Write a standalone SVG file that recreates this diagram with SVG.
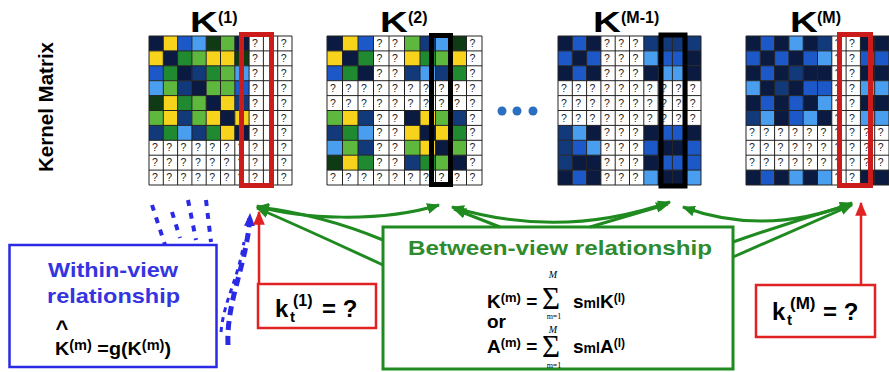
<svg xmlns="http://www.w3.org/2000/svg" xmlns:xlink="http://www.w3.org/1999/xlink" width="889" height="372" viewBox="0 0 889 372">
<style>
text{font-family:"Liberation Sans",Arial,sans-serif}
.fb{font-weight:bold}
.N{fill:#0a1a40}.D{fill:#12397a}.B{fill:#1c58c8}.L{fill:#4a9ef0}.G{fill:#0e3b14}.g{fill:#1f8a30}.l{fill:#5fb83e}.Y{fill:#f7d31c}
.grid{fill:none;stroke:#222;stroke-width:1}
.q{font-size:10.5px;fill:#222}
.gr{fill:none;stroke:#1f8a1f;stroke-width:3}
.rd{fill:none;stroke:#e02222;stroke-width:2.5}
.bd{fill:none;stroke:#2a2ae6;stroke-linecap:butt}
.sm{font-family:"Liberation Serif","DejaVu Serif",serif}
</style>
<defs>
<path id="g143" d="M0 0V149M14.3 0V149M28.6 0V149M42.9 0V149M57.2 0V149M71.5 0V149M85.8 0V149M100.1 0V149M114.4 0V149M128.7 0V149M143 0V149M0 0H143M0 14.9H143M0 29.8H143M0 44.7H143M0 59.6H143M0 74.5H143M0 89.4H143M0 104.3H143M0 119.2H143M0 134.1H143M0 149H143"/>
<path id="g155" d="M0 0V149M15.5 0V149M31 0V149M46.5 0V149M62 0V149M77.5 0V149M93 0V149M108.5 0V149M124 0V149M139.5 0V149M155 0V149M0 0H155M0 14.9H155M0 29.8H155M0 44.7H155M0 59.6H155M0 74.5H155M0 89.4H155M0 104.3H155M0 119.2H155M0 134.1H155M0 149H155"/>
<marker id="ag" viewBox="0 0 12 10" refX="11" refY="5" markerWidth="13" markerHeight="11" markerUnits="userSpaceOnUse" orient="auto-start-reverse"><path d="M0 0L12 5L0 10z" fill="#1f8a1f"/></marker>
<marker id="ar" viewBox="0 0 12 10" refX="11" refY="5" markerWidth="14" markerHeight="12" markerUnits="userSpaceOnUse" orient="auto"><path d="M0 0L12 5L0 10z" fill="#e02222"/></marker>
<marker id="ab" viewBox="0 0 12 10" refX="11" refY="5" markerWidth="13" markerHeight="12" markerUnits="userSpaceOnUse" orient="auto"><path d="M0 0L12 5L0 10z" fill="#2a2ae6"/></marker>
</defs>
<rect width="889" height="372" fill="#fff"/>

<g id="label"><text class="fb" font-size="20" transform="translate(53,107) rotate(-90)" text-anchor="middle" textLength="130" lengthAdjust="spacingAndGlyphs">Kernel Matrix</text></g>

<g id="k1">
<text class="fb" font-size="29" transform="translate(190,32) scale(1.33,1)">K</text>
<text class="fb" font-size="16" x="218" y="23">(1)</text>
<g transform="translate(149,36)">
<rect width="143" height="149" fill="#fff"/>
<rect class="N" x="0" y="0" width="14.3" height="14.9"/><rect class="Y" x="14.3" y="0" width="14.3" height="14.9"/><rect class="B" x="28.6" y="0" width="14.3" height="14.9"/><rect class="L" x="42.9" y="0" width="14.3" height="14.9"/><rect class="G" x="57.2" y="0" width="14.3" height="14.9"/><rect class="l" x="71.5" y="0" width="14.3" height="14.9"/><rect class="N" x="85.8" y="0" width="14.3" height="14.9"/>
<rect class="Y" x="0" y="14.9" width="14.3" height="14.9"/><rect class="N" x="14.3" y="14.9" width="14.3" height="14.9"/><rect class="g" x="28.6" y="14.9" width="14.3" height="14.9"/><rect class="l" x="42.9" y="14.9" width="14.3" height="14.9"/><rect class="Y" x="57.2" y="14.9" width="14.3" height="14.9"/><rect class="Y" x="71.5" y="14.9" width="14.3" height="14.9"/><rect class="G" x="85.8" y="14.9" width="14.3" height="14.9"/>
<rect class="B" x="0" y="29.8" width="14.3" height="14.9"/><rect class="g" x="14.3" y="29.8" width="14.3" height="14.9"/><rect class="N" x="28.6" y="29.8" width="14.3" height="14.9"/><rect class="D" x="42.9" y="29.8" width="14.3" height="14.9"/><rect class="g" x="57.2" y="29.8" width="14.3" height="14.9"/><rect class="l" x="71.5" y="29.8" width="14.3" height="14.9"/><rect class="L" x="85.8" y="29.8" width="14.3" height="14.9"/>
<rect class="L" x="0" y="44.7" width="14.3" height="14.9"/><rect class="l" x="14.3" y="44.7" width="14.3" height="14.9"/><rect class="D" x="28.6" y="44.7" width="14.3" height="14.9"/><rect class="N" x="42.9" y="44.7" width="14.3" height="14.9"/><rect class="l" x="57.2" y="44.7" width="14.3" height="14.9"/><rect class="l" x="71.5" y="44.7" width="14.3" height="14.9"/><rect class="B" x="85.8" y="44.7" width="14.3" height="14.9"/>
<rect class="G" x="0" y="59.6" width="14.3" height="14.9"/><rect class="Y" x="14.3" y="59.6" width="14.3" height="14.9"/><rect class="g" x="28.6" y="59.6" width="14.3" height="14.9"/><rect class="l" x="42.9" y="59.6" width="14.3" height="14.9"/><rect class="N" x="57.2" y="59.6" width="14.3" height="14.9"/><rect class="Y" x="71.5" y="59.6" width="14.3" height="14.9"/><rect class="D" x="85.8" y="59.6" width="14.3" height="14.9"/>
<rect class="l" x="0" y="74.5" width="14.3" height="14.9"/><rect class="Y" x="14.3" y="74.5" width="14.3" height="14.9"/><rect class="D" x="28.6" y="74.5" width="14.3" height="14.9"/><rect class="l" x="42.9" y="74.5" width="14.3" height="14.9"/><rect class="Y" x="57.2" y="74.5" width="14.3" height="14.9"/><rect class="N" x="71.5" y="74.5" width="14.3" height="14.9"/><rect class="Y" x="85.8" y="74.5" width="14.3" height="14.9"/>
<rect class="D" x="0" y="89.4" width="14.3" height="14.9"/><rect class="g" x="14.3" y="89.4" width="14.3" height="14.9"/><rect class="L" x="28.6" y="89.4" width="14.3" height="14.9"/><rect class="D" x="42.9" y="89.4" width="14.3" height="14.9"/><rect class="g" x="57.2" y="89.4" width="14.3" height="14.9"/><rect class="Y" x="71.5" y="89.4" width="14.3" height="14.9"/><rect class="N" x="85.8" y="89.4" width="14.3" height="14.9"/>
<use href="#g143" class="grid"/>
<text class="q" x="103.1 131.7" y="11">??</text><text class="q" x="103.1 131.7" y="25.9">??</text><text class="q" x="103.1 131.7" y="40.8">??</text><text class="q" x="103.1 131.7" y="55.7">??</text><text class="q" x="103.1 131.7" y="70.6">??</text><text class="q" x="103.1 131.7" y="85.5">??</text><text class="q" x="103.1 131.7" y="100.4">??</text>
<text class="q" x="3 17.3 31.6 45.9 60.2 74.5 88.8 103.1 131.7" y="115.3">?????????</text><text class="q" x="3 17.3 31.6 45.9 60.2 74.5 88.8 103.1 131.7" y="130.2">?????????</text><text class="q" x="3 17.3 31.6 45.9 60.2 74.5 88.8 103.1 131.7" y="145.1">?????????</text>
</g>
<rect x="241.5" y="34.5" width="30" height="151" fill="none" stroke="#cc1b1b" stroke-width="5"/>
</g>

<g id="k2">
<text class="fb" font-size="29" transform="translate(380,32) scale(1.33,1)">K</text>
<text class="fb" font-size="16" x="408" y="23">(2)</text>
<g transform="translate(327,36)">
<rect width="155" height="149" fill="#fff"/>
<rect class="N" x="0" y="0" width="15.5" height="14.9"/><rect class="Y" x="15.5" y="0" width="15.5" height="14.9"/><rect class="B" x="31" y="0" width="15.5" height="14.9"/><rect class="l" x="77.5" y="0" width="15.5" height="14.9"/><rect class="D" x="93" y="0" width="15.5" height="14.9"/><rect class="L" x="108.5" y="0" width="15.5" height="14.9"/><rect class="G" x="124" y="0" width="15.5" height="14.9"/>
<rect class="Y" x="0" y="14.9" width="15.5" height="14.9"/><rect class="N" x="15.5" y="14.9" width="15.5" height="14.9"/><rect class="g" x="31" y="14.9" width="15.5" height="14.9"/><rect class="Y" x="77.5" y="14.9" width="15.5" height="14.9"/><rect class="g" x="93" y="14.9" width="15.5" height="14.9"/><rect class="l" x="108.5" y="14.9" width="15.5" height="14.9"/><rect class="Y" x="124" y="14.9" width="15.5" height="14.9"/>
<rect class="B" x="0" y="29.8" width="15.5" height="14.9"/><rect class="g" x="15.5" y="29.8" width="15.5" height="14.9"/><rect class="N" x="31" y="29.8" width="15.5" height="14.9"/><rect class="D" x="77.5" y="29.8" width="15.5" height="14.9"/><rect class="L" x="93" y="29.8" width="15.5" height="14.9"/><rect class="D" x="108.5" y="29.8" width="15.5" height="14.9"/><rect class="g" x="124" y="29.8" width="15.5" height="14.9"/>
<rect class="l" x="0" y="74.5" width="15.5" height="14.9"/><rect class="Y" x="15.5" y="74.5" width="15.5" height="14.9"/><rect class="D" x="31" y="74.5" width="15.5" height="14.9"/><rect class="N" x="77.5" y="74.5" width="15.5" height="14.9"/><rect class="Y" x="93" y="74.5" width="15.5" height="14.9"/><rect class="l" x="108.5" y="74.5" width="15.5" height="14.9"/><rect class="D" x="124" y="74.5" width="15.5" height="14.9"/>
<rect class="D" x="0" y="89.4" width="15.5" height="14.9"/><rect class="g" x="15.5" y="89.4" width="15.5" height="14.9"/><rect class="L" x="31" y="89.4" width="15.5" height="14.9"/><rect class="Y" x="77.5" y="89.4" width="15.5" height="14.9"/><rect class="N" x="93" y="89.4" width="15.5" height="14.9"/><rect class="Y" x="108.5" y="89.4" width="15.5" height="14.9"/><rect class="g" x="124" y="89.4" width="15.5" height="14.9"/>
<rect class="L" x="0" y="104.3" width="15.5" height="14.9"/><rect class="l" x="15.5" y="104.3" width="15.5" height="14.9"/><rect class="D" x="31" y="104.3" width="15.5" height="14.9"/><rect class="l" x="77.5" y="104.3" width="15.5" height="14.9"/><rect class="Y" x="93" y="104.3" width="15.5" height="14.9"/><rect class="N" x="108.5" y="104.3" width="15.5" height="14.9"/><rect class="l" x="124" y="104.3" width="15.5" height="14.9"/>
<rect class="G" x="0" y="119.2" width="15.5" height="14.9"/><rect class="Y" x="15.5" y="119.2" width="15.5" height="14.9"/><rect class="g" x="31" y="119.2" width="15.5" height="14.9"/><rect class="D" x="77.5" y="119.2" width="15.5" height="14.9"/><rect class="g" x="93" y="119.2" width="15.5" height="14.9"/><rect class="l" x="108.5" y="119.2" width="15.5" height="14.9"/><rect class="N" x="124" y="119.2" width="15.5" height="14.9"/>
<use href="#g155" class="grid"/>
<text class="q" x="49.5 65 142.5" y="11">???</text><text class="q" x="49.5 65 142.5" y="25.9">???</text><text class="q" x="49.5 65 142.5" y="40.8">???</text>
<text class="q" x="3 18.5 34 49.5 65 80.5 96 111.5 127 142.5" y="55.7">??????????</text><text class="q" x="3 18.5 34 49.5 65 80.5 96 111.5 127 142.5" y="70.6">??????????</text>
<text class="q" x="49.5 65 142.5" y="85.5">???</text><text class="q" x="49.5 65 142.5" y="100.4">???</text><text class="q" x="49.5 65 142.5" y="115.3">???</text><text class="q" x="49.5 65 142.5" y="130.2">???</text>
<text class="q" x="3 18.5 34 49.5 65 80.5 96 111.5 127 142.5" y="145.1">??????????</text>
</g>
<rect x="431.5" y="35.5" width="19" height="149" fill="none" stroke="#000" stroke-width="5"/>
</g>

<g id="dots" fill="#2a6fc0"><circle cx="502" cy="111" r="4.5"/><circle cx="517" cy="111" r="4.5"/><circle cx="533" cy="111" r="4.5"/></g>

<g id="kM1">
<text class="fb" font-size="29" transform="translate(593,32) scale(1.33,1)">K</text>
<text class="fb" font-size="16" x="621" y="23">(M-1)</text>
<g transform="translate(558,36)">
<rect width="143" height="149" fill="#fff"/>
<rect class="N" x="0" y="0" width="14.3" height="14.9"/><rect class="B" x="14.3" y="0" width="14.3" height="14.9"/><rect class="N" x="28.6" y="0" width="14.3" height="14.9"/><rect class="D" x="85.8" y="0" width="14.3" height="14.9"/><rect class="D" x="100.1" y="0" width="14.3" height="14.9"/><rect class="D" x="114.4" y="0" width="14.3" height="14.9"/><rect class="D" x="128.7" y="0" width="14.3" height="14.9"/>
<rect class="B" x="0" y="14.9" width="14.3" height="14.9"/><rect class="N" x="14.3" y="14.9" width="14.3" height="14.9"/><rect class="B" x="28.6" y="14.9" width="14.3" height="14.9"/><rect class="L" x="85.8" y="14.9" width="14.3" height="14.9"/><rect class="B" x="100.1" y="14.9" width="14.3" height="14.9"/><rect class="B" x="114.4" y="14.9" width="14.3" height="14.9"/><rect class="N" x="128.7" y="14.9" width="14.3" height="14.9"/>
<rect class="N" x="0" y="29.8" width="14.3" height="14.9"/><rect class="B" x="14.3" y="29.8" width="14.3" height="14.9"/><rect class="N" x="28.6" y="29.8" width="14.3" height="14.9"/><rect class="N" x="85.8" y="29.8" width="14.3" height="14.9"/><rect class="L" x="100.1" y="29.8" width="14.3" height="14.9"/><rect class="L" x="114.4" y="29.8" width="14.3" height="14.9"/><rect class="N" x="128.7" y="29.8" width="14.3" height="14.9"/>
<rect class="D" x="0" y="89.4" width="14.3" height="14.9"/><rect class="L" x="14.3" y="89.4" width="14.3" height="14.9"/><rect class="N" x="28.6" y="89.4" width="14.3" height="14.9"/><rect class="N" x="85.8" y="89.4" width="14.3" height="14.9"/><rect class="B" x="100.1" y="89.4" width="14.3" height="14.9"/><rect class="B" x="114.4" y="89.4" width="14.3" height="14.9"/><rect class="N" x="128.7" y="89.4" width="14.3" height="14.9"/>
<rect class="D" x="0" y="104.3" width="14.3" height="14.9"/><rect class="B" x="14.3" y="104.3" width="14.3" height="14.9"/><rect class="L" x="28.6" y="104.3" width="14.3" height="14.9"/><rect class="B" x="85.8" y="104.3" width="14.3" height="14.9"/><rect class="N" x="100.1" y="104.3" width="14.3" height="14.9"/><rect class="N" x="114.4" y="104.3" width="14.3" height="14.9"/><rect class="B" x="128.7" y="104.3" width="14.3" height="14.9"/>
<rect class="D" x="0" y="119.2" width="14.3" height="14.9"/><rect class="N" x="14.3" y="119.2" width="14.3" height="14.9"/><rect class="N" x="28.6" y="119.2" width="14.3" height="14.9"/><rect class="N" x="85.8" y="119.2" width="14.3" height="14.9"/><rect class="B" x="100.1" y="119.2" width="14.3" height="14.9"/><rect class="B" x="114.4" y="119.2" width="14.3" height="14.9"/><rect class="B" x="128.7" y="119.2" width="14.3" height="14.9"/>
<rect class="N" x="0" y="134.1" width="14.3" height="14.9"/><rect class="B" x="14.3" y="134.1" width="14.3" height="14.9"/><rect class="N" x="28.6" y="134.1" width="14.3" height="14.9"/><rect class="L" x="85.8" y="134.1" width="14.3" height="14.9"/><rect class="N" x="100.1" y="134.1" width="14.3" height="14.9"/><rect class="N" x="114.4" y="134.1" width="14.3" height="14.9"/><rect class="L" x="128.7" y="134.1" width="14.3" height="14.9"/>
<use href="#g143" class="grid"/>
<text class="q" x="45.9 60.2 74.5" y="11">???</text><text class="q" x="45.9 60.2 74.5" y="25.9">???</text><text class="q" x="45.9 60.2 74.5" y="40.8">???</text>
<text class="q" x="3 17.3 31.6 45.9 60.2 74.5 88.8 103.1 117.4 131.7" y="55.7">??????????</text><text class="q" x="3 17.3 31.6 45.9 60.2 74.5 88.8 103.1 117.4 131.7" y="70.6">??????????</text><text class="q" x="3 17.3 31.6 45.9 60.2 74.5 88.8 103.1 117.4 131.7" y="85.5">??????????</text>
<text class="q" x="45.9 60.2 74.5" y="100.4">???</text><text class="q" x="45.9 60.2 74.5" y="115.3">???</text><text class="q" x="45.9 60.2 74.5" y="130.2">???</text><text class="q" x="45.9 60.2 74.5" y="145.1">???</text>
</g>
<rect x="661" y="35" width="24" height="151" fill="none" stroke="#000" stroke-width="5"/>
</g>

<g id="kM">
<text class="fb" font-size="29" transform="translate(790,32) scale(1.33,1)">K</text>
<text class="fb" font-size="16" x="817" y="23">(M)</text>
<g transform="translate(746,36)">
<rect width="143" height="149" fill="#fff"/>
<rect class="N" x="0" y="0" width="14.3" height="14.9"/><rect class="B" x="14.3" y="0" width="14.3" height="14.9"/><rect class="N" x="28.6" y="0" width="14.3" height="14.9"/><rect class="L" x="42.9" y="0" width="14.3" height="14.9"/><rect class="N" x="57.2" y="0" width="14.3" height="14.9"/><rect class="D" x="71.5" y="0" width="14.3" height="14.9"/><rect class="N" x="114.4" y="0" width="14.3" height="14.9"/><rect class="N" x="128.7" y="0" width="14.3" height="14.9"/>
<rect class="B" x="0" y="14.9" width="14.3" height="14.9"/><rect class="N" x="14.3" y="14.9" width="14.3" height="14.9"/><rect class="B" x="28.6" y="14.9" width="14.3" height="14.9"/><rect class="N" x="42.9" y="14.9" width="14.3" height="14.9"/><rect class="B" x="57.2" y="14.9" width="14.3" height="14.9"/><rect class="L" x="71.5" y="14.9" width="14.3" height="14.9"/><rect class="B" x="114.4" y="14.9" width="14.3" height="14.9"/><rect class="B" x="128.7" y="14.9" width="14.3" height="14.9"/>
<rect class="N" x="0" y="29.8" width="14.3" height="14.9"/><rect class="B" x="14.3" y="29.8" width="14.3" height="14.9"/><rect class="N" x="28.6" y="29.8" width="14.3" height="14.9"/><rect class="D" x="42.9" y="29.8" width="14.3" height="14.9"/><rect class="N" x="57.2" y="29.8" width="14.3" height="14.9"/><rect class="N" x="71.5" y="29.8" width="14.3" height="14.9"/><rect class="N" x="114.4" y="29.8" width="14.3" height="14.9"/><rect class="N" x="128.7" y="29.8" width="14.3" height="14.9"/>
<rect class="L" x="0" y="44.7" width="14.3" height="14.9"/><rect class="N" x="14.3" y="44.7" width="14.3" height="14.9"/><rect class="D" x="28.6" y="44.7" width="14.3" height="14.9"/><rect class="N" x="42.9" y="44.7" width="14.3" height="14.9"/><rect class="B" x="57.2" y="44.7" width="14.3" height="14.9"/><rect class="B" x="71.5" y="44.7" width="14.3" height="14.9"/><rect class="L" x="114.4" y="44.7" width="14.3" height="14.9"/><rect class="L" x="128.7" y="44.7" width="14.3" height="14.9"/>
<rect class="N" x="0" y="59.6" width="14.3" height="14.9"/><rect class="B" x="14.3" y="59.6" width="14.3" height="14.9"/><rect class="N" x="28.6" y="59.6" width="14.3" height="14.9"/><rect class="B" x="42.9" y="59.6" width="14.3" height="14.9"/><rect class="N" x="57.2" y="59.6" width="14.3" height="14.9"/><rect class="L" x="71.5" y="59.6" width="14.3" height="14.9"/><rect class="N" x="114.4" y="59.6" width="14.3" height="14.9"/><rect class="N" x="128.7" y="59.6" width="14.3" height="14.9"/>
<rect class="D" x="0" y="74.5" width="14.3" height="14.9"/><rect class="L" x="14.3" y="74.5" width="14.3" height="14.9"/><rect class="N" x="28.6" y="74.5" width="14.3" height="14.9"/><rect class="B" x="42.9" y="74.5" width="14.3" height="14.9"/><rect class="L" x="57.2" y="74.5" width="14.3" height="14.9"/><rect class="N" x="71.5" y="74.5" width="14.3" height="14.9"/><rect class="L" x="114.4" y="74.5" width="14.3" height="14.9"/><rect class="L" x="128.7" y="74.5" width="14.3" height="14.9"/>
<rect class="N" x="0" y="134.1" width="14.3" height="14.9"/><rect class="B" x="14.3" y="134.1" width="14.3" height="14.9"/><rect class="N" x="28.6" y="134.1" width="14.3" height="14.9"/><rect class="L" x="42.9" y="134.1" width="14.3" height="14.9"/><rect class="N" x="57.2" y="134.1" width="14.3" height="14.9"/><rect class="L" x="71.5" y="134.1" width="14.3" height="14.9"/><rect class="N" x="114.4" y="134.1" width="14.3" height="14.9"/><rect class="N" x="128.7" y="134.1" width="14.3" height="14.9"/>
<use href="#g143" class="grid"/>
<text class="q" x="88.8 103.1" y="11">??</text><text class="q" x="88.8 103.1" y="25.9">??</text><text class="q" x="88.8 103.1" y="40.8">??</text><text class="q" x="88.8 103.1" y="55.7">??</text><text class="q" x="88.8 103.1" y="70.6">??</text><text class="q" x="88.8 103.1" y="85.5">??</text>
<text class="q" x="3 17.3 31.6 45.9 60.2 74.5 88.8 103.1 117.4 131.7" y="100.4">??????????</text><text class="q" x="3 17.3 31.6 45.9 60.2 74.5 88.8 103.1 117.4 131.7" y="115.3">??????????</text><text class="q" x="3 17.3 31.6 45.9 60.2 74.5 88.8 103.1 117.4 131.7" y="130.2">??????????</text>
<text class="q" x="88.8 103.1" y="145.1">??</text>
</g>
<rect x="839.5" y="34.5" width="31" height="151" fill="none" stroke="#cc1b1b" stroke-width="5"/>
</g>

<g id="connectors">
<path class="bd" stroke-width="4" stroke-dasharray="6 7" d="M152 205L165 245M172 212L180 238M188 200L196 240M206 200L211 242"/>
<path class="bd" stroke-width="3" stroke-dasharray="5 5" d="M221 332C224 300 238 280 244 242"/>
<path class="bd" stroke-width="5" stroke-dasharray="9 6" d="M228 345C226 300 248 262 250 214" marker-end="url(#ab)"/>
<path class="gr" d="M383 240Q320 214 257 207" marker-end="url(#ag)"/>
<path class="gr" d="M383 265Q312 232 257 208" marker-end="url(#ag)"/>
<path class="gr" d="M257 206C300 219 380 223 439 205" marker-start="url(#ag)" marker-end="url(#ag)"/>
<path class="gr" d="M452 207Q560 240 670 202" marker-start="url(#ag)" marker-end="url(#ag)"/>
<path class="gr" d="M500 227L454 209" marker-end="url(#ag)"/>
<path class="gr" d="M590 227L668 204" marker-end="url(#ag)"/>
<path class="gr" d="M683 207Q765 237 852 203" marker-start="url(#ag)" marker-end="url(#ag)"/>
<path class="gr" d="M733 242Q790 222 852 204" marker-end="url(#ag)"/>
<path class="gr" d="M733 257Q795 230 852 205" marker-end="url(#ag)"/>
<path d="M259 284V212" stroke="#e02222" stroke-width="2.5" marker-end="url(#ar)"/>
<path d="M861 285V203" stroke="#e02222" stroke-width="2.5" marker-end="url(#ar)"/>
</g>

<g id="within">
<rect x="9.5" y="245" width="207" height="122" fill="#fff" stroke="#2a2ae6" stroke-width="2.5"/>
<text class="fb" font-size="21" fill="#3434e0" x="48" y="277" textLength="130" lengthAdjust="spacingAndGlyphs">Within-view</text>
<text class="fb" font-size="21" fill="#3434e0" x="47" y="303" textLength="133" lengthAdjust="spacingAndGlyphs">relationship</text>
<text class="fb" font-size="22" x="62" y="336" text-anchor="middle">^</text>
<text class="fb" font-size="19" x="55" y="355" textLength="116" lengthAdjust="spacingAndGlyphs">K<tspan font-size="14" dy="-5">(m)</tspan><tspan dy="5"> =g(K</tspan><tspan font-size="14" dy="-5">(m)</tspan><tspan dy="5">)</tspan></text>
</g>

<g id="kt1">
<rect x="258" y="284" width="118" height="44" class="rd" fill="#fff"/>
<text class="fb" font-size="24" y="317"><tspan x="275">k</tspan><tspan x="290" dy="5" font-size="15">t</tspan><tspan x="293" dy="-16" font-size="16">(1)</tspan><tspan x="322" dy="11">= ?</tspan></text>
</g>

<g id="between">
<rect x="383" y="227" width="350" height="142" class="gr" fill="#fff" stroke-width="2.5"/>
<text class="fb" font-size="21" fill="#2e8b2e" x="408" y="255" textLength="304" lengthAdjust="spacingAndGlyphs">Between-view relationship</text>
<text class="fb" font-size="19" x="487" y="308">K<tspan font-size="13" dy="-6">(m)</tspan><tspan dy="6"> =</tspan></text>
<text class="sm" font-size="31" x="542" y="309">Σ</text>
<text class="sm" font-size="10" font-style="italic" x="553" y="278" text-anchor="middle">M</text>
<text class="sm" font-size="8" x="554" y="319" text-anchor="middle">m=1</text>
<text class="fb" font-size="19" x="573" y="308">s<tspan font-size="14">ml</tspan>K<tspan font-size="12" dy="-6">(l)</tspan></text>
<text class="fb" font-size="19" x="487" y="328">or</text>
<text class="fb" font-size="19" x="487" y="353">A<tspan font-size="13" dy="-6">(m)</tspan><tspan dy="6"> =</tspan></text>
<text class="sm" font-size="31" x="542" y="357">Σ</text>
<text class="sm" font-size="10" font-style="italic" x="553" y="333" text-anchor="middle">M</text>
<text class="sm" font-size="8" x="554" y="368" text-anchor="middle">m=1</text>
<text class="fb" font-size="19" x="573" y="353">s<tspan font-size="14">ml</tspan>A<tspan font-size="12" dy="-6">(l)</tspan></text>
</g>

<g id="ktM">
<rect x="756" y="285" width="119" height="52" class="rd" fill="#fff"/>
<text class="fb" font-size="24" y="320"><tspan x="772">k</tspan><tspan x="787" dy="5" font-size="15">t</tspan><tspan x="790" dy="-16" font-size="17">(M)</tspan><tspan x="823" dy="11">= ?</tspan></text>
</g>
</svg>
